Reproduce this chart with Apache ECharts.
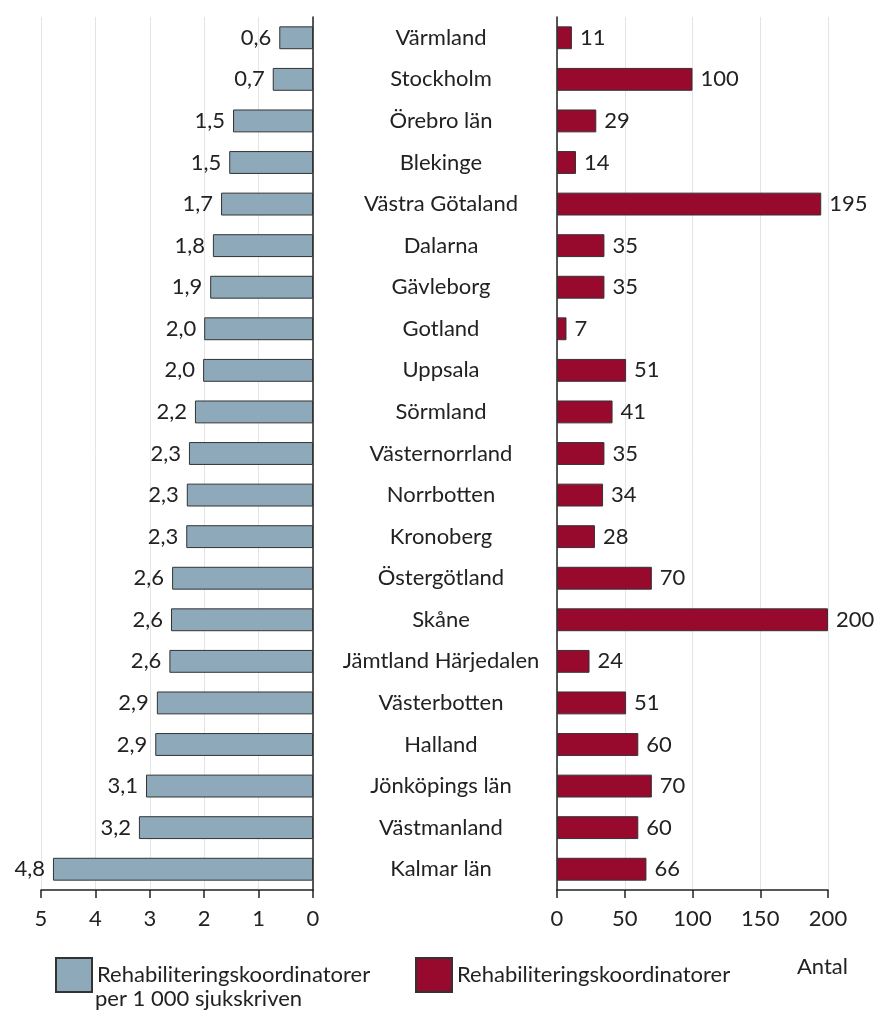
<!DOCTYPE html>
<html>
<head>
<meta charset="utf-8">
<script src="https://cdn.jsdelivr.net/npm/echarts@6/dist/echarts.min.js"></script>
<style>
  html, body { margin: 0; padding: 0; background: #fff; }
  #chart { width: 882px; height: 1024px; }
</style>
</head>
<body>
<div id="chart"></div>
<script>
// regioner, uppifrån och ned
var regions = ['Värmland', 'Stockholm', 'Örebro län', 'Blekinge', 'Västra Götaland', 'Dalarna',
  'Gävleborg', 'Gotland', 'Uppsala', 'Sörmland', 'Västernorrland', 'Norrbotten', 'Kronoberg',
  'Östergötland', 'Skåne', 'Jämtland Härjedalen', 'Västerbotten', 'Halland', 'Jönköpings län',
  'Västmanland', 'Kalmar län'];
// per 1 000 sjukskrivna (avläst, visas med en decimal)
var perThousand = [0.62, 0.74, 1.47, 1.54, 1.69, 1.84, 1.89, 2.0, 2.02, 2.17, 2.28, 2.32, 2.33,
  2.59, 2.61, 2.64, 2.87, 2.9, 3.07, 3.2, 4.78];
// antal
var antal = [11, 100, 29, 14, 195, 35, 35, 7, 51, 41, 35, 34, 28, 70, 200, 24, 51, 60, 70, 60, 66];
var leftTicks = [0, 1, 2, 3, 4, 5];
var rightTicks = [0, 50, 100, 150, 200];

var font = "Lato, 'Open Sans', sans-serif";
var fs = 22;
var blue = '#8DA9BA';
var red = '#970A2E';

var myChart = echarts.init(document.getElementById('chart'));
myChart.setOption({
  animation: false,
  textStyle: { fontFamily: font },
  grid: [
    { left: 41, right: 569, top: 17, bottom: 134 },
    { left: 557, right: 54, top: 17, bottom: 134 }
  ],
  xAxis: [
    {
      gridIndex: 0, type: 'value', inverse: true,
      min: leftTicks[0], max: leftTicks[leftTicks.length - 1], interval: 1,
      axisLine: { show: true, lineStyle: { color: '#222', width: 1.5 } },
      axisTick: { show: true, length: 8, lineStyle: { color: '#222', width: 1.5 } },
      axisLabel: { fontSize: fs, color: '#222', margin: 18, fontFamily: font },
      splitLine: { show: true, lineStyle: { color: '#E4E4E4', width: 1 } }
    },
    {
      gridIndex: 1, type: 'value',
      min: rightTicks[0], max: rightTicks[rightTicks.length - 1], interval: 50,
      axisLine: { show: true, lineStyle: { color: '#222', width: 1.5 } },
      axisTick: { show: true, length: 8, lineStyle: { color: '#222', width: 1.5 } },
      axisLabel: { fontSize: fs, color: '#222', margin: 18, fontFamily: font },
      splitLine: { show: true, lineStyle: { color: '#E4E4E4', width: 1 } }
    }
  ],
  yAxis: [
    {
      gridIndex: 0, type: 'category', data: regions, inverse: true, position: 'right',
      axisLine: { show: true, lineStyle: { color: '#222', width: 1.5 } },
      axisTick: { show: false },
      axisLabel: { show: false }
    },
    {
      gridIndex: 1, type: 'category', data: regions, inverse: true, position: 'left',
      axisLine: { show: true, lineStyle: { color: '#222', width: 1.5 } },
      axisTick: { show: false },
      axisLabel: { fontSize: fs, color: '#222', align: 'center', margin: 116, fontFamily: font }
    }
  ],
  legend: [
    {
      data: ['Rehabiliteringskoordinatorer per 1 000 sjukskriven'],
      left: 50, top: 952, itemWidth: 36, itemHeight: 34, icon: 'rect',
      formatter: function () { return 'Rehabiliteringskoordinatorer'; },
      textStyle: { fontSize: fs, color: '#222', fontFamily: font }
    },
    {
      data: ['Rehabiliteringskoordinatorer'],
      left: 410, top: 952, itemWidth: 36, itemHeight: 34, icon: 'rect',
      textStyle: { fontSize: fs, color: '#222', fontFamily: font }
    }
  ],
  graphic: [
    { type: 'text', left: 95, top: 988, style: { text: 'per 1 000 sjukskriven', fontSize: fs, fill: '#222', fontFamily: font } },
    { type: 'text', left: 797, top: 956, style: { text: 'Antal', fontSize: fs, fill: '#222', fontFamily: font } }
  ],
  series: [
    {
      name: 'Rehabiliteringskoordinatorer per 1 000 sjukskriven',
      type: 'bar', xAxisIndex: 0, yAxisIndex: 0, data: perThousand,
      barCategoryGap: '45%',
      itemStyle: { color: blue, borderColor: '#333', borderWidth: 1 },
      label: {
        show: true, position: 'left', distance: 8, fontSize: fs, color: '#222', fontFamily: font,
        formatter: function (p) { return p.value.toFixed(1).replace('.', ','); }
      }
    },
    {
      name: 'Rehabiliteringskoordinatorer',
      type: 'bar', xAxisIndex: 1, yAxisIndex: 1, data: antal,
      barCategoryGap: '45%',
      itemStyle: { color: red, borderColor: '#333', borderWidth: 1 },
      label: { show: true, position: 'right', distance: 8, fontSize: fs, color: '#222', fontFamily: font }
    }
  ]
});
</script>
</body>
</html>
